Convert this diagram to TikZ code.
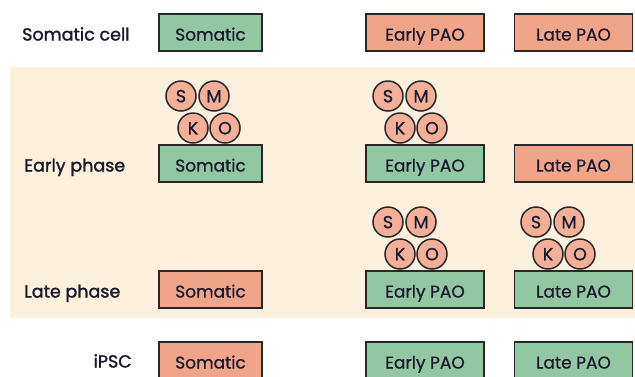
\documentclass[tikz,border=0pt]{standalone}
\usepackage{fontspec}
\setmainfont{Poppins}
\newfontfamily\boxfont{Poppins}[FakeBold=0.8]
\newfontfamily\labelfont{Poppins}[FakeBold=1.5]
\definecolor{cellgreen}{RGB}{146,199,163}
\definecolor{cellsalmon}{RGB}{240,164,136}
\definecolor{factorfill}{RGB}{243,176,150}
\definecolor{bandfill}{RGB}{253,240,220}
\definecolor{edgegray}{RGB}{40,40,40}
\definecolor{inkdark}{RGB}{25,25,45}
\tikzset{
  cellbox/.style={draw=edgegray, line width=1.6pt, minimum height=37pt,
    inner sep=0pt, text height=16pt, text depth=0pt, text=inkdark,
    font=\boxfont\fontsize{17}{17}\selectfont},
  somaticbox/.style={cellbox, minimum width=103pt},
  paobox/.style={cellbox, minimum width=118pt},
  on/.style={fill=cellgreen},
  off/.style={fill=cellsalmon},
  factor/.style={circle, draw=edgegray, line width=1.5pt, fill=factorfill,
    minimum size=30pt, inner sep=0pt, text height=12.5pt, text depth=0pt,
    text=inkdark, font=\boxfont\fontsize{17.5}{17.5}\selectfont},
  rowlabel/.style={anchor=base west, inner sep=0pt, text=inkdark,
    font=\labelfont\fontsize{17.5}{17.5}\selectfont},
  smko/.pic={
    \node[factor] (-s) at (22,-48) {S};
    \node[factor] (-m) at (55,-48) {M};
    \node[factor] (-k) at (34,-16) {K};
    \node[factor] (-o) at (66,-16) {O};
  }
}
\begin{document}
\begin{tikzpicture}[x=1pt, y=-1pt]
  \useasboundingbox (0,0) rectangle (635,376);
  % reprogramming phases band
  \fill[bandfill] (10,67) rectangle (640,318);

  % row labels
  \node[rowlabel] (lsom)   at (22,40.5)  {Somatic cell};
  \node[rowlabel] (learly) at (24,171.5) {Early phase};
  \node[rowlabel] (llate)  at (24,297.5) {Late phase};
  \node[rowlabel, anchor=base east] (lipsc) at (132,367.5) {iPSC};

  % somatic cell
  \node[somaticbox, on]  (s1) at (210.5,32.5) {Somatic};
  \node[paobox, off]     (e1) at (425,32.5)   {Early PAO};
  \node[paobox, off]     (l1) at (573.5,32.5) {Late PAO};

  % early phase
  \node[somaticbox, on]  (s2) at (210.5,163.5) {Somatic};
  \node[paobox, on]      (e2) at (425,163.5)   {Early PAO};
  \node[paobox, off]     (l2) at (573.5,163.5) {Late PAO};
  \pic (f2s) at (159,144) {smko};
  \pic (f2e) at (366,144) {smko};

  % late phase
  \node[somaticbox, off] (s3) at (210.5,289.5) {Somatic};
  \node[paobox, on]      (e3) at (425,289.5)   {Early PAO};
  \node[paobox, on]      (l3) at (573.5,289.5) {Late PAO};
  \pic (f3e) at (366,270) {smko};
  \pic (f3l) at (514,270) {smko};

  % iPSC
  \node[somaticbox, off] (s4) at (210.5,360.5) {Somatic};
  \node[paobox, on]      (e4) at (425,360.5)   {Early PAO};
  \node[paobox, on]      (l4) at (573.5,360.5) {Late PAO};
\end{tikzpicture}
\end{document}
